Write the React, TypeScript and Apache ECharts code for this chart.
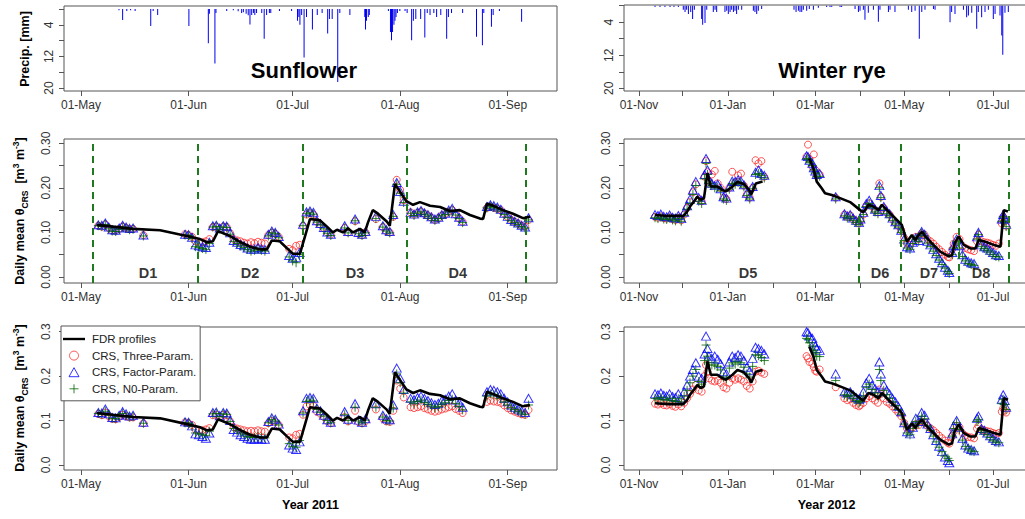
import React, { useEffect, useRef } from 'react';
import * as echarts from 'echarts';

const FONT = '"Liberation Sans", Arial, Helvetica, sans-serif';

// ---------- Sunflower 2011 (x = days since 01-May-2011) ----------
const sfMonthTicks = [0, 31, 61, 92, 123];
const sfMonthLabels = ['01-May', '01-Jun', '01-Jul', '01-Aug', '01-Sep'];
const sfPeriodBounds = [3.4, 33.7, 63.8, 94, 128.2];
const sfPeriodNames = ['D1', 'D2', 'D3', 'D4'];
const sfPeriodCenters = [19.3, 48.7, 79, 108.6];

const sfRainDays = [10.95, 12, 13.2, 14.3, 15.6, 20.1, 20.8, 22.1, 31.1, 36.7, 37, 38.6, 38.9, 42, 43.9, 45.3, 46.3, 46.8, 47.6, 48.2, 48.7, 49.2, 49.7, 50.1, 50.6, 52.1, 52.8, 53.5, 54.3, 54.7, 57.2, 60.7, 62.4, 62.8, 63.1, 63.6, 64.3, 65, 66.7, 68.1, 69.5, 71.1, 71.6, 72.4, 74, 74.6, 77.5, 81.8, 82, 82.3, 82.8, 83.1, 88.6, 89.2, 89.5, 89.8, 90.2, 90.5, 90.8, 91.2, 91.9, 93.4, 94, 95.3, 95.8, 96.5, 97.9, 99.1, 99.8, 100.6, 101.7, 102.5, 103.7, 105.4, 105.9, 106.8, 110, 114, 115.7, 116.1, 118.3, 118.8, 120.6, 127];
const sfRainMm = [0.3, 2.8, 0.5, 0.3, 0.5, 4.3, 0.5, 1.5, 4.3, 8.7, 1.2, 13.8, 1, 0.5, 0.3, 0.6, 1, 0.8, 1.2, 1.6, 3.9, 1.5, 1, 1.5, 1, 1, 7.5, 1.5, 1, 1, 0.5, 0.5, 3, 2, 4, 1.5, 12.3, 2, 5.2, 1.5, 1, 6.2, 2.5, 2.5, 18.5, 1, 1.5, 2, 5.2, 3, 2, 1.5, 0.5, 5.8, 7.9, 5.8, 4, 3, 2, 1, 0.5, 0.5, 1, 7.9, 3, 2.5, 2.5, 7.2, 1, 1.5, 1, 2, 1.5, 7.5, 2, 1, 1, 7, 9.2, 1, 4.5, 1.5, 0.5, 3.2];

const sfLineDays = [4.5, 15, 22.8, 30.5, 34.3, 36.3, 38, 39.5, 42.9, 45.8, 48.7, 51.6, 53.6, 55, 57.3, 59.3, 61.1, 63.1, 66, 68.9, 70.9, 72.6, 73.8, 75.5, 77, 78.4, 80.4, 81.8, 82.7, 84.1, 85.6, 88.2, 89, 90.5, 91.9, 93.8, 95.7, 97.7, 100.6, 103.5, 106.3, 109.2, 112.1, 115, 115.9, 117, 118.7, 121.6, 124.5, 127.4, 129.4];
const sfLineFDR = [0.117, 0.108, 0.105, 0.092, 0.085, 0.078, 0.080, 0.103, 0.092, 0.079, 0.068, 0.062, 0.062, 0.082, 0.080, 0.065, 0.052, 0.052, 0.130, 0.127, 0.113, 0.100, 0.106, 0.100, 0.109, 0.100, 0.108, 0.100, 0.122, 0.150, 0.142, 0.124, 0.115, 0.209, 0.192, 0.170, 0.162, 0.168, 0.160, 0.157, 0.148, 0.150, 0.139, 0.131, 0.130, 0.165, 0.160, 0.150, 0.142, 0.132, 0.135];

const sfObsDays = [5, 6, 7, 8, 9, 10, 11, 12, 13, 14, 15, 18,
  30, 31, 32, 33, 34, 35, 36, 37, 38, 39, 40, 41, 42, 43, 44, 45, 46, 47, 48, 49, 50, 51, 52, 53, 54, 55, 56, 57,
  60, 61, 62, 63, 64, 65, 66, 67, 68, 69, 70, 71, 72,
  76, 77, 79, 80, 81, 82,
  85, 87, 88, 89, 90, 91, 92, 93,
  95, 96, 97, 98, 99, 100, 101, 102, 103, 104, 105, 106, 107, 108, 109, 110,
  117, 118, 119, 120, 121, 122, 123, 124, 125, 126, 127, 128, 129];
const sfMidThree = [0.115, 0.113, 0.118, 0.110, 0.105, 0.104, 0.108, 0.113, 0.110, 0.107, 0.108, 0.094,
  0.096, 0.094, 0.090, 0.080, 0.077, 0.078, 0.080, 0.085, 0.112, 0.113, 0.108, 0.113, 0.112, 0.098, 0.085, 0.082, 0.080, 0.077, 0.075, 0.078, 0.076, 0.079, 0.077, 0.075, 0.094, 0.099, 0.097, 0.090,
  0.063, 0.060, 0.070, 0.072, 0.115, 0.140, 0.143, 0.140, 0.124, 0.118, 0.110, 0.100, 0.095,
  0.110, 0.100, 0.125, 0.098, 0.094, 0.100,
  0.130, 0.112, 0.103, 0.100, 0.135, 0.218, 0.195, 0.172,
  0.145, 0.140, 0.144, 0.147, 0.142, 0.138, 0.133, 0.128, 0.132, 0.138, 0.141, 0.146, 0.150, 0.140, 0.132, 0.124,
  0.155, 0.158, 0.155, 0.153, 0.150, 0.142, 0.135, 0.128, 0.124, 0.120, 0.115, 0.113, 0.128];
const sfMidFactor = [0.117, 0.116, 0.121, 0.112, 0.106, 0.105, 0.110, 0.116, 0.112, 0.109, 0.110, 0.094,
  0.096, 0.095, 0.089, 0.072, 0.070, 0.068, 0.066, 0.078, 0.115, 0.116, 0.110, 0.115, 0.114, 0.099, 0.082, 0.078, 0.073, 0.070, 0.065, 0.062, 0.063, 0.066, 0.063, 0.062, 0.096, 0.103, 0.100, 0.091,
  0.048, 0.042, 0.044, 0.055, 0.118, 0.146, 0.148, 0.145, 0.126, 0.120, 0.111, 0.101, 0.096,
  0.115, 0.102, 0.130, 0.100, 0.096, 0.102,
  0.136, 0.115, 0.106, 0.102, 0.140, 0.212, 0.192, 0.170,
  0.145, 0.141, 0.146, 0.149, 0.144, 0.140, 0.135, 0.130, 0.134, 0.140, 0.143, 0.150, 0.154, 0.142, 0.134, 0.125,
  0.158, 0.162, 0.160, 0.157, 0.152, 0.143, 0.136, 0.129, 0.125, 0.121, 0.116, 0.112, 0.133];
const sfMidN0 = [0.115, 0.113, 0.118, 0.108, 0.103, 0.102, 0.107, 0.112, 0.109, 0.106, 0.107, 0.092,
  0.094, 0.093, 0.086, 0.068, 0.066, 0.064, 0.062, 0.075, 0.112, 0.113, 0.107, 0.112, 0.111, 0.096, 0.080, 0.075, 0.070, 0.066, 0.062, 0.058, 0.060, 0.062, 0.060, 0.058, 0.092, 0.099, 0.097, 0.088,
  0.045, 0.036, 0.032, 0.050, 0.115, 0.142, 0.144, 0.141, 0.123, 0.117, 0.108, 0.098, 0.093,
  0.110, 0.099, 0.126, 0.097, 0.093, 0.099,
  0.131, 0.112, 0.103, 0.099, 0.136, 0.208, 0.188, 0.167,
  0.143, 0.138, 0.143, 0.146, 0.141, 0.137, 0.132, 0.127, 0.131, 0.137, 0.140, 0.146, 0.149, 0.139, 0.131, 0.122,
  0.155, 0.158, 0.156, 0.153, 0.148, 0.140, 0.133, 0.126, 0.122, 0.118, 0.113, 0.110, 0.128];
const sfBotThree = [0.115, 0.112, 0.118, 0.110, 0.104, 0.103, 0.108, 0.113, 0.110, 0.107, 0.107, 0.094,
  0.096, 0.094, 0.090, 0.080, 0.078, 0.078, 0.080, 0.083, 0.112, 0.113, 0.109, 0.113, 0.112, 0.098, 0.085, 0.082, 0.080, 0.078, 0.076, 0.077, 0.076, 0.078, 0.076, 0.075, 0.094, 0.099, 0.097, 0.090,
  0.062, 0.060, 0.068, 0.070, 0.113, 0.132, 0.135, 0.133, 0.120, 0.115, 0.108, 0.099, 0.094,
  0.108, 0.098, 0.122, 0.097, 0.094, 0.099,
  0.125, 0.105, 0.098, 0.097, 0.122, 0.190, 0.172, 0.152,
  0.130, 0.128, 0.130, 0.132, 0.128, 0.125, 0.122, 0.120, 0.122, 0.125, 0.127, 0.130, 0.132, 0.126, 0.122, 0.117,
  0.142, 0.145, 0.143, 0.142, 0.140, 0.134, 0.128, 0.123, 0.120, 0.117, 0.114, 0.113, 0.124];
const sfBotFactor = [0.118, 0.117, 0.126, 0.115, 0.107, 0.106, 0.112, 0.120, 0.115, 0.110, 0.112, 0.096,
  0.097, 0.096, 0.088, 0.070, 0.068, 0.064, 0.060, 0.072, 0.118, 0.119, 0.111, 0.118, 0.117, 0.100, 0.080, 0.074, 0.068, 0.064, 0.060, 0.058, 0.058, 0.060, 0.058, 0.058, 0.098, 0.106, 0.103, 0.092,
  0.045, 0.038, 0.035, 0.052, 0.122, 0.150, 0.152, 0.150, 0.128, 0.122, 0.112, 0.102, 0.096,
  0.120, 0.103, 0.138, 0.101, 0.096, 0.104,
  0.138, 0.112, 0.104, 0.102, 0.135, 0.218, 0.195, 0.170,
  0.150, 0.147, 0.152, 0.155, 0.150, 0.145, 0.140, 0.136, 0.139, 0.145, 0.148, 0.155, 0.160, 0.146, 0.140, 0.130,
  0.165, 0.170, 0.168, 0.165, 0.160, 0.150, 0.142, 0.135, 0.130, 0.126, 0.122, 0.118, 0.150];
const sfBotN0 = [0.116, 0.114, 0.121, 0.112, 0.105, 0.104, 0.109, 0.116, 0.111, 0.108, 0.109, 0.094,
  0.095, 0.094, 0.087, 0.072, 0.070, 0.068, 0.066, 0.076, 0.115, 0.116, 0.109, 0.115, 0.114, 0.098, 0.082, 0.077, 0.072, 0.068, 0.064, 0.062, 0.062, 0.064, 0.062, 0.061, 0.095, 0.102, 0.099, 0.090,
  0.048, 0.042, 0.040, 0.055, 0.117, 0.143, 0.146, 0.144, 0.125, 0.119, 0.110, 0.100, 0.095,
  0.113, 0.100, 0.130, 0.099, 0.095, 0.101,
  0.130, 0.108, 0.100, 0.099, 0.128, 0.205, 0.185, 0.162,
  0.142, 0.139, 0.143, 0.146, 0.141, 0.137, 0.133, 0.129, 0.132, 0.137, 0.140, 0.145, 0.148, 0.138, 0.132, 0.124,
  0.155, 0.160, 0.158, 0.155, 0.150, 0.142, 0.135, 0.129, 0.125, 0.121, 0.117, 0.114, 0.135];

// ---------- Winter rye 2011/2012 (x = days since 01-Nov-2011) ----------
const wrMonthTicks = [0, 30, 61, 92, 121, 152, 182, 213, 243];
const wrLabelTicks = [0, 61, 121, 182, 243];
const wrMonthLabels = ['01-Nov', '01-Jan', '01-Mar', '01-May', '01-Jul'];
const wrPeriodBounds = [151, 179.8, 219.7, 254];
const wrPeriodNames = ['D5', 'D6', 'D7', 'D8'];
const wrPeriodCenters = [74.8, 165.4, 199, 234.8];

const wrRainDays = [11, 14.4, 17.8, 21.3, 24, 27, 30.4, 31.6, 32.7, 33.9, 35.5, 36.8, 38, 43, 43.7, 45.3, 46.5, 51, 52.2, 53.3, 59, 60.2, 61.3, 62.5, 63.6, 64.8, 65.9, 67, 68.2, 70.5, 78.5, 79.6, 80.8, 81.9, 84.2, 106.4, 107.8, 109.4, 110.5, 111.7, 112.8, 115.1, 116.9, 119.7, 123.1, 128.8, 131.1, 132.3, 138, 139.1, 148.3, 150.6, 151.7, 154, 155.1, 157.4, 160.9, 164.3, 165.4, 171.2, 172.3, 175.7, 184.9, 187.2, 189.5, 192.4, 194.1, 196.3, 202.1, 203.2, 213.5, 214.6, 216.9, 222.7, 224.9, 226.1, 228.4, 231.8, 232.9, 235.2, 237.5, 239.8, 243.2, 244.4, 247.8, 249, 249.7, 251.2, 253.5];
const wrRainMm = [0.3, 0.3, 0.3, 0.3, 0.3, 0.3, 1, 1.5, 1, 2, 1.5, 3.2, 1, 3.2, 4.6, 4.2, 1, 1.5, 1, 1.5, 1.5, 1.2, 2, 1.5, 1, 1.5, 1.2, 2, 1, 1, 1.2, 1.5, 2, 1.2, 0.8, 1, 1.5, 1.2, 1.5, 1.5, 1, 1.2, 0.8, 1, 0.5, 0.3, 0.3, 0.3, 0.3, 0.3, 0.8, 1.5, 1.2, 1, 3.4, 1.7, 1, 3.9, 1, 1.5, 1, 1.5, 1, 1.5, 1.2, 8, 1.5, 1, 0.8, 1, 4, 1.5, 2, 1, 2.8, 2.4, 1.7, 5.6, 1.5, 2.8, 1.5, 1, 3.2, 2, 2.4, 7.2, 11.9, 1.7, 1.5];

const wrLineDays = [11, 20, 30.4, 32.7, 35, 37.6, 40, 42.3, 44.6, 47, 49.3, 53.8, 57.3, 59.6, 64.2, 67.6, 72.2, 75.6, 77, 80.2, 84.8, 100,
  116.9, 119.7, 122, 125.4, 127.7, 132.3, 138, 144.9, 151.8, 154, 157.5, 161, 164.4, 166.7, 170.2, 173.6, 177, 180.4, 183.9, 187.3, 189.6, 191.9, 194.2, 196.5, 202.2, 206.8, 212.6, 214.9, 216.7, 219.5, 222.9, 227.5, 230.9, 233.2, 237.8, 243.5, 248.1, 250.4, 253.2];
const wrLineFDR = [0.139, 0.137, 0.137, 0.145, 0.158, 0.169, 0.180, 0.173, 0.177, 0.233, 0.203, 0.203, 0.195, 0.192, 0.203, 0.214, 0.208, 0.195, 0.185, 0.210, 0.214, null,
  0.266, 0.244, 0.214, 0.199, 0.188, 0.184, 0.177, 0.168, 0.150, 0.145, 0.162, 0.158, 0.150, 0.162, 0.150, 0.139, 0.128, 0.117, 0.079, 0.094, 0.083, 0.094, 0.102, 0.091, 0.072, 0.057, 0.046, 0.049, 0.076, 0.091, 0.072, 0.064, 0.064, 0.083, 0.079, 0.072, 0.068, 0.150, 0.147];

const wrObsDays = [11, 13, 15, 17, 19, 21, 23, 25, 27, 29, 31, 33, 35, 37, 39, 41, 43, 45, 46, 47, 48, 50, 52, 54, 56, 58, 60, 62, 64, 66, 68, 70, 72, 74, 76, 78, 80, 82, 84, 86,
  115, 116, 117, 119, 120, 121, 122, 124, 135, 141, 143, 145, 147, 149, 151, 152, 154, 156, 158, 160, 162, 164, 165, 166, 168, 170, 172, 174, 176, 178, 180, 182, 184, 186, 188, 190, 192, 194, 196, 198, 200, 202, 204, 206, 208, 210, 212, 213, 215, 216, 218, 220, 222, 224, 226, 228, 230, 232, 233, 235, 237, 239, 241, 243, 245, 247, 249, 250, 251, 252];
const wrMidThree = [0.135, 0.133, 0.136, 0.132, 0.131, 0.134, 0.130, 0.128, 0.133, 0.127, 0.140, 0.155, 0.168, 0.190, 0.208, 0.175, 0.170, 0.225, 0.260, 0.235, 0.215, 0.230, 0.238, 0.210, 0.200, 0.178, 0.175, 0.200, 0.236, 0.212, 0.228, 0.232, 0.205, 0.185, 0.178, 0.200, 0.262, 0.255, 0.260, 0.225,
  0.270, 0.297, 0.265, 0.248, 0.275, 0.240, 0.228, 0.230, 0.178, 0.140, 0.135, 0.138, 0.130, 0.125, 0.120, 0.128, 0.140, 0.160, 0.165, 0.158, 0.150, 0.145, 0.210, 0.180, 0.155, 0.145, 0.140, 0.130, 0.122, 0.115, 0.105, 0.088, 0.075, 0.072, 0.082, 0.090, 0.085, 0.098, 0.095, 0.085, 0.080, 0.075, 0.068, 0.062, 0.056, 0.050, 0.045, 0.044, 0.062, 0.075, 0.090, 0.085, 0.070, 0.065, 0.062, 0.060, 0.058, 0.080, 0.095, 0.080, 0.078, 0.077, 0.075, 0.072, 0.070, 0.075, 0.120, 0.135, 0.125, 0.115];
const wrMidFactor = [0.140, 0.138, 0.141, 0.136, 0.135, 0.139, 0.134, 0.132, 0.138, 0.131, 0.145, 0.160, 0.175, 0.195, 0.214, 0.178, 0.172, 0.230, 0.266, 0.240, 0.218, 0.210, 0.205, 0.208, 0.198, 0.180, 0.177, 0.202, 0.215, 0.214, 0.218, 0.215, 0.207, 0.188, 0.180, 0.203, 0.235, 0.240, 0.232, 0.228,
  0.272, 0.270, 0.262, 0.255, 0.245, 0.238, 0.230, 0.232, 0.180, 0.142, 0.137, 0.140, 0.132, 0.127, 0.122, 0.130, 0.145, 0.165, 0.172, 0.162, 0.152, 0.147, 0.205, 0.183, 0.158, 0.148, 0.142, 0.132, 0.124, 0.117, 0.105, 0.085, 0.068, 0.065, 0.078, 0.088, 0.082, 0.102, 0.096, 0.080, 0.072, 0.062, 0.052, 0.042, 0.032, 0.022, 0.015, 0.010, 0.055, 0.070, 0.085, 0.070, 0.050, 0.040, 0.035, 0.032, 0.030, 0.090, 0.100, 0.072, 0.068, 0.065, 0.060, 0.055, 0.050, 0.048, 0.130, 0.140, 0.130, 0.118];
const wrMidN0 = [0.133, 0.131, 0.134, 0.130, 0.129, 0.132, 0.128, 0.126, 0.131, 0.125, 0.138, 0.152, 0.165, 0.185, 0.205, 0.170, 0.165, 0.220, 0.255, 0.230, 0.210, 0.205, 0.200, 0.202, 0.193, 0.175, 0.172, 0.197, 0.210, 0.208, 0.212, 0.210, 0.202, 0.183, 0.175, 0.198, 0.230, 0.232, 0.228, 0.222,
  0.265, 0.265, 0.258, 0.250, 0.240, 0.233, 0.225, 0.226, 0.175, 0.137, 0.132, 0.135, 0.127, 0.122, 0.117, 0.125, 0.140, 0.158, 0.165, 0.155, 0.146, 0.142, 0.200, 0.178, 0.152, 0.142, 0.137, 0.127, 0.119, 0.112, 0.100, 0.082, 0.065, 0.062, 0.075, 0.085, 0.080, 0.098, 0.092, 0.076, 0.068, 0.058, 0.048, 0.038, 0.028, 0.020, 0.012, 0.008, 0.050, 0.065, 0.080, 0.065, 0.046, 0.036, 0.030, 0.028, 0.026, 0.085, 0.095, 0.068, 0.064, 0.060, 0.056, 0.050, 0.046, 0.045, 0.125, 0.135, 0.125, 0.113];
const wrBotThree = [0.138, 0.136, 0.139, 0.135, 0.134, 0.137, 0.133, 0.131, 0.136, 0.132, 0.140, 0.150, 0.160, 0.170, 0.180, 0.168, 0.165, 0.200, 0.225, 0.210, 0.195, 0.190, 0.188, 0.190, 0.185, 0.175, 0.172, 0.185, 0.195, 0.192, 0.195, 0.192, 0.188, 0.178, 0.172, 0.188, 0.210, 0.212, 0.208, 0.205,
  0.245, 0.240, 0.232, 0.228, 0.220, 0.212, 0.210, 0.215, 0.175, 0.150, 0.146, 0.148, 0.140, 0.135, 0.132, 0.135, 0.140, 0.150, 0.155, 0.150, 0.145, 0.140, 0.170, 0.160, 0.150, 0.142, 0.138, 0.132, 0.125, 0.118, 0.110, 0.095, 0.082, 0.080, 0.085, 0.092, 0.090, 0.098, 0.095, 0.088, 0.083, 0.078, 0.072, 0.066, 0.060, 0.055, 0.050, 0.048, 0.065, 0.075, 0.088, 0.085, 0.072, 0.066, 0.063, 0.062, 0.060, 0.082, 0.088, 0.080, 0.078, 0.076, 0.075, 0.072, 0.070, 0.072, 0.120, 0.128, 0.122, 0.118];
const wrBotFactor = [0.160, 0.158, 0.162, 0.157, 0.155, 0.160, 0.154, 0.152, 0.160, 0.150, 0.165, 0.180, 0.200, 0.215, 0.230, 0.200, 0.195, 0.250, 0.290, 0.262, 0.245, 0.240, 0.245, 0.238, 0.228, 0.210, 0.205, 0.232, 0.245, 0.242, 0.248, 0.245, 0.235, 0.220, 0.212, 0.240, 0.265, 0.262, 0.258, 0.250,
  0.300, 0.298, 0.290, 0.285, 0.275, 0.268, 0.262, 0.258, 0.205, 0.165, 0.162, 0.165, 0.158, 0.152, 0.148, 0.150, 0.165, 0.185, 0.195, 0.180, 0.172, 0.165, 0.232, 0.205, 0.180, 0.168, 0.160, 0.150, 0.142, 0.132, 0.120, 0.095, 0.075, 0.070, 0.085, 0.105, 0.098, 0.118, 0.112, 0.092, 0.082, 0.068, 0.055, 0.042, 0.030, 0.018, 0.010, 0.005, 0.070, 0.088, 0.100, 0.085, 0.060, 0.045, 0.038, 0.035, 0.032, 0.105, 0.110, 0.082, 0.078, 0.072, 0.066, 0.060, 0.055, 0.052, 0.148, 0.158, 0.145, 0.130];
const wrBotN0 = [0.150, 0.148, 0.152, 0.147, 0.146, 0.150, 0.145, 0.143, 0.149, 0.142, 0.155, 0.168, 0.185, 0.200, 0.215, 0.188, 0.182, 0.235, 0.270, 0.245, 0.230, 0.225, 0.225, 0.222, 0.214, 0.198, 0.194, 0.218, 0.230, 0.227, 0.232, 0.230, 0.220, 0.205, 0.198, 0.222, 0.248, 0.246, 0.242, 0.235,
  0.285, 0.283, 0.275, 0.268, 0.258, 0.252, 0.245, 0.244, 0.190, 0.158, 0.154, 0.157, 0.150, 0.145, 0.140, 0.143, 0.155, 0.175, 0.182, 0.170, 0.162, 0.155, 0.215, 0.190, 0.168, 0.158, 0.150, 0.142, 0.134, 0.125, 0.114, 0.092, 0.072, 0.068, 0.082, 0.098, 0.093, 0.110, 0.104, 0.088, 0.078, 0.065, 0.052, 0.040, 0.030, 0.020, 0.015, 0.010, 0.065, 0.082, 0.095, 0.080, 0.056, 0.042, 0.036, 0.032, 0.030, 0.098, 0.102, 0.078, 0.074, 0.068, 0.062, 0.056, 0.052, 0.050, 0.138, 0.148, 0.136, 0.125];

const precipTicks = [0, 4, 8, 12, 16, 20];
const precipLabels = [4, 12, 20];
const midTicks = [0, 0.05, 0.1, 0.15, 0.2, 0.25, 0.3];
const midLabels = [0, 0.1, 0.2, 0.3];
const botTicks = [0, 0.1, 0.2, 0.3];

const NAME_FDR = 'FDR profiles';
const NAME_THREE = 'CRS, Three-Param.';
const NAME_FACTOR = 'CRS, Factor-Param.';
const NAME_N0 = 'CRS, N0-Param.';

const AX = '#555';
const LBL = '#333';
const PLUS = 'path://M5,0L5,10M0,5L10,5';
const TRI_ICON = 'path://M5,0L10,9L0,9Z';
const LINE_ICON = 'path://M0,0L24,0L24,2.6L0,2.6Z';
const DASH_GREEN = '#1f7a1f';

const zip = (xs: number[], ys: (number | null)[]) => xs.map((x, i) => [x, ys[i]]);

function buildOption() {
  // grids: 0 sf precip, 1 wr precip, 2 sf mid, 3 wr mid, 4 sf bottom, 5 wr bottom
  const LW = 493, RW = 405;
  const grids = [
    { left: 64, top: 6, width: LW, height: 85 },
    { left: 624, top: 5, width: RW, height: 86 },
    { left: 64, top: 139, width: LW, height: 144 },
    { left: 624, top: 139, width: RW, height: 144 },
    { left: 64, top: 327, width: LW, height: 143 },
    { left: 624, top: 327, width: RW, height: 143 },
  ].map((g) => ({ ...g, show: true, borderColor: AX, borderWidth: 1, backgroundColor: 'transparent', containLabel: false, outerBoundsMode: 'none' }));

  const sfX = { min: -4.9, max: 137.2, ticks: sfMonthTicks, lt: sfMonthTicks, labels: sfMonthLabels };
  const wrX = { min: -10.3, max: 267.7, ticks: wrMonthTicks, lt: wrLabelTicks, labels: wrMonthLabels };

  const mkX = (gi: number, c: any, name?: string) => ({
    type: 'value', gridIndex: gi, min: c.min, max: c.max, position: 'bottom',
    axisLine: { show: false, onZero: false },
    axisTick: { show: true, length: 5, lineStyle: { color: AX, width: 1 }, customValues: c.ticks },
    axisLabel: {
      show: true, customValues: c.lt, margin: 8, color: LBL, fontSize: 12, fontFamily: FONT,
      formatter: (v: number) => { const i = c.lt.indexOf(v); return i >= 0 ? c.labels[i] : ''; },
    },
    splitLine: { show: false },
    name: name || '', nameLocation: 'middle', nameGap: 28,
    nameTextStyle: { fontWeight: 'bold', fontSize: 12.5, color: '#000', fontFamily: FONT },
  });
  const mkY = (gi: number, min: number, max: number, ticks: number[], labels: number[], fmt: (v: number) => string, inverse = false, margin = 12) => ({
    type: 'value', gridIndex: gi, min, max, inverse,
    axisLine: { show: false, onZero: false },
    axisTick: { show: true, length: 5, lineStyle: { color: AX, width: 1 }, customValues: ticks },
    axisLabel: { show: true, customValues: labels, rotate: 90, margin, color: LBL, fontSize: 12, fontFamily: FONT, formatter: fmt },
    splitLine: { show: false },
  });

  const xAxis = [mkX(0, sfX), mkX(1, wrX), mkX(2, sfX), mkX(3, wrX), mkX(4, sfX, 'Year 2011'), mkX(5, wrX, 'Year 2012')];
  const pf = (v: number) => String(v);
  const yAxis = [
    mkY(0, -0.76, 20.76, precipTicks, precipLabels, pf, true, 9),
    mkY(1, -0.17, 20.65, precipTicks, precipLabels, pf, true, 9),
    mkY(2, -0.0135, 0.3096, midTicks, midLabels, (v) => v.toFixed(2)),
    mkY(3, -0.0135, 0.3096, midTicks, midLabels, (v) => v.toFixed(2)),
    mkY(4, -0.0113, 0.3106, botTicks, botTicks, (v) => v.toFixed(1)),
    mkY(5, -0.0113, 0.3106, botTicks, botTicks, (v) => v.toFixed(1)),
  ];

  const series: any[] = [];
  const base = { silent: true, emphasis: { disabled: true }, animation: false };

  // precipitation
  [[0, sfRainDays, sfRainMm], [1, wrRainDays, wrRainMm]].forEach(([gi, d, m]: any) => {
    series.push({ ...base, type: 'bar', name: 'precip', xAxisIndex: gi, yAxisIndex: gi, data: zip(d, m), barWidth: 1, itemStyle: { color: '#0000ee' } });
  });

  const scat = (gi: number, name: string, days: number[], vals: number[]) => {
    let sty: any;
    if (name === NAME_THREE) sty = { symbol: 'circle', symbolSize: 7, itemStyle: { color: 'rgba(0,0,0,0)', borderColor: '#ff2a2a', borderWidth: 1 }, z: 2 };
    else if (name === NAME_FACTOR) sty = { symbol: 'triangle', symbolSize: [9, 8], itemStyle: { color: 'rgba(0,0,0,0)', borderColor: '#0000ff', borderWidth: 1 }, z: 3 };
    else sty = { symbol: PLUS, symbolSize: 9, itemStyle: { color: 'rgba(0,0,0,0)', borderColor: '#006400', borderWidth: 1 }, z: 4 };
    return { ...base, type: 'scatter', name, xAxisIndex: gi, yAxisIndex: gi, data: zip(days, vals), ...sty };
  };
  const line = (gi: number, days: number[], vals: (number | null)[], bounds?: number[]) => ({
    ...base, type: 'line', name: NAME_FDR, xAxisIndex: gi, yAxisIndex: gi, data: zip(days, vals),
    symbol: 'none', showSymbol: false, connectNulls: false, z: 6,
    lineStyle: { color: '#000', width: 2.6 }, itemStyle: { color: '#000' },
    markLine: bounds ? {
      silent: true, symbol: ['none', 'none'], label: { show: false }, animation: false,
      lineStyle: { type: [7, 5], color: DASH_GREEN, width: 2 }, emphasis: { disabled: true },
      data: bounds.map((x) => ({ xAxis: x })),
    } : undefined,
  });
  const periodLabels = (gi: number, names: string[], centers: number[]) => ({
    ...base, type: 'scatter', name: 'periods', xAxisIndex: gi, yAxisIndex: gi, symbolSize: 1,
    itemStyle: { color: 'rgba(0,0,0,0)' }, z: 7,
    data: centers.map((c, i) => ({ name: names[i], value: [c, 0.008] })),
    label: { show: true, position: 'inside', formatter: '{b}', fontWeight: 'bold', fontSize: 14.5, color: '#000', fontFamily: FONT },
  });

  // sunflower mid / bottom
  series.push(scat(2, NAME_THREE, sfObsDays, sfMidThree), scat(2, NAME_FACTOR, sfObsDays, sfMidFactor), scat(2, NAME_N0, sfObsDays, sfMidN0));
  series.push(line(2, sfLineDays, sfLineFDR, sfPeriodBounds), periodLabels(2, sfPeriodNames, sfPeriodCenters));
  series.push(scat(4, NAME_THREE, sfObsDays, sfBotThree), scat(4, NAME_FACTOR, sfObsDays, sfBotFactor), scat(4, NAME_N0, sfObsDays, sfBotN0));
  series.push(line(4, sfLineDays, sfLineFDR));
  // winter rye mid / bottom
  series.push(scat(3, NAME_THREE, wrObsDays, wrMidThree), scat(3, NAME_FACTOR, wrObsDays, wrMidFactor), scat(3, NAME_N0, wrObsDays, wrMidN0));
  series.push(line(3, wrLineDays, wrLineFDR, wrPeriodBounds), periodLabels(3, wrPeriodNames, wrPeriodCenters));
  series.push(scat(5, NAME_THREE, wrObsDays, wrBotThree), scat(5, NAME_FACTOR, wrObsDays, wrBotFactor), scat(5, NAME_N0, wrObsDays, wrBotN0));
  series.push(line(5, wrLineDays, wrLineFDR));

  const thetaRich = {
    a: { fontSize: 12.5, fontWeight: 'bold', fontFamily: FONT, fill: '#000', color: '#000', lineHeight: 18, verticalAlign: 'middle' },
    s: { fontSize: 8.5, fontWeight: 'bold', fontFamily: FONT, fill: '#000', color: '#000', verticalAlign: 'bottom' },
    p: { fontSize: 8.5, fontWeight: 'bold', fontFamily: FONT, fill: '#000', color: '#000', verticalAlign: 'top' },
  };
  const thetaText = '{a|Daily mean θ}{s|CRS}{a|  [m}{p|3}{a| m}{p|-3}{a|]}';
  const rotTitle = (x: number, y: number) => ({
    type: 'text', x, y, rotation: Math.PI / 2, silent: true,
    style: { text: thetaText, rich: thetaRich, align: 'center', verticalAlign: 'middle', textAlign: 'center', textVerticalAlign: 'middle' },
  });
  const plainText = (x: number, y: number, text: string, size: number, rot = 0) => ({
    type: 'text', x, y, rotation: rot, silent: true,
    style: { text, fontSize: size, fontWeight: 'bold', fontFamily: FONT, fill: '#000', align: 'center', verticalAlign: 'middle', textAlign: 'center', textVerticalAlign: 'middle' },
  });

  return {
    animation: false,
    backgroundColor: '#fff',
    textStyle: { fontFamily: FONT },
    grid: grids,
    xAxis, yAxis, series,
    legend: {
      orient: 'vertical', left: 61, top: 326, selectedMode: false,
      itemWidth: 22, itemHeight: 9, itemGap: 4.6, symbolKeepAspect: true,
      padding: [7, 4, 6, 2], borderColor: AX, borderWidth: 1, backgroundColor: '#fff',
      textStyle: { fontSize: 11.5, color: '#222', fontFamily: FONT, padding: [0, 0, 0, 2] },
      data: [
        { name: NAME_FDR, icon: LINE_ICON, itemStyle: { color: '#000', borderWidth: 0 } },
        { name: NAME_THREE, icon: 'circle', itemStyle: { color: 'rgba(0,0,0,0)', borderColor: '#ff2a2a', borderWidth: 1 } },
        { name: NAME_FACTOR, icon: TRI_ICON, itemStyle: { color: 'rgba(0,0,0,0)', borderColor: '#0000ff', borderWidth: 1 } },
        { name: NAME_N0, icon: PLUS, itemStyle: { color: 'rgba(0,0,0,0)', borderColor: '#006400', borderWidth: 1 } },
      ],
    },
    graphic: [
      plainText(304, 70, 'Sunflower', 22),
      plainText(832, 70, 'Winter rye', 22),
      plainText(25, 49, 'Precip. [mm]', 12.5, Math.PI / 2),
      rotTitle(20, 211),
      rotTitle(20, 398),
    ],
  };
}

export default function App() {
  const ref = useRef<HTMLDivElement>(null);
  useEffect(() => {
    if (!ref.current) return;
    const chart = echarts.init(ref.current, null, { renderer: 'svg' });
    chart.setOption(buildOption() as any);
    return () => chart.dispose();
  }, []);
  return <div ref={ref} style={{ position: 'fixed', left: 0, top: 0, width: 1025, height: 519, background: '#fff' }} />;
}
